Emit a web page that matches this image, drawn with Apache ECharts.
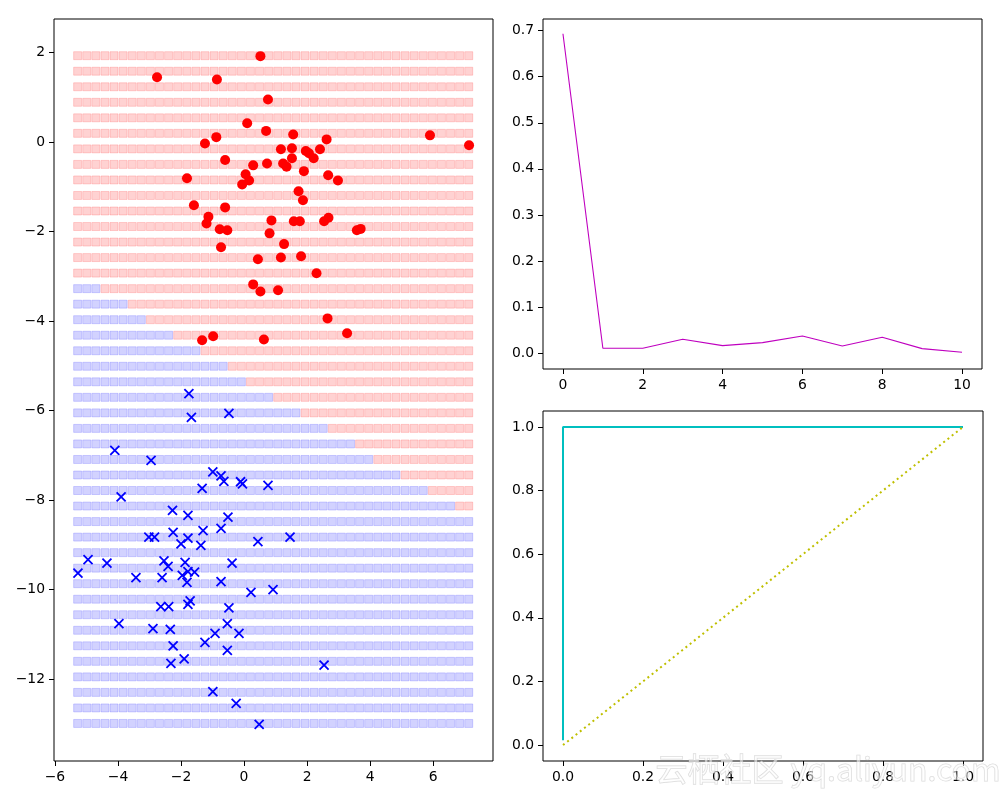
<!DOCTYPE html>
<html>
<head>
<meta charset="utf-8">
<script src="https://cdn.jsdelivr.net/npm/echarts@6/dist/echarts.min.js"></script>
<style>html,body{margin:0;padding:0;background:#fff;}#c{width:1000px;height:800px;}</style>
</head>
<body>
<div id="c"></div>
<script>
// ---- Left panel: decision-region grid ----
const gridX = [-5.280,-4.991,-4.703,-4.414,-4.126,-3.837,-3.548,-3.260,-2.971,-2.683,-2.394,-2.105,-1.817,-1.528,-1.240,-0.951,-0.662,-0.374,-0.085,0.203,0.492,0.781,1.069,1.358,1.646,1.935,2.224,2.512,2.801,3.089,3.378,3.667,3.955,4.244,4.532,4.821,5.110,5.398,5.687,5.975,6.264,6.553,6.841,7.130];
const gridY = [1.930,1.583,1.236,0.889,0.542,0.195,-0.152,-0.499,-0.846,-1.193,-1.540,-1.887,-2.234,-2.581,-2.928,-3.275,-3.622,-3.969,-4.316,-4.663,-5.010,-5.357,-5.704,-6.051,-6.398,-6.745,-7.092,-7.439,-7.786,-8.133,-8.480,-8.827,-9.174,-9.521,-9.868,-10.215,-10.562,-10.909,-11.256,-11.603,-11.950,-12.297,-12.644,-12.991];
// number of blue (class 1) cells from the left, per row of gridY
const blueCount = [0,0,0,0,0,0,0,0,0,0,0,0,0,0,0,3,6,8,11,14,17,19,22,25,28,31,33,36,39,42,44,44,44,44,44,44,44,44,44,44,44,44,44,44];

// ---- Left panel: samples ----
const redX = [0.52,-2.76,-0.86,0.76,0.10,0.70,1.56,5.90,-0.88,2.62,-1.24,7.14,1.17,1.52,1.96,2.06,2.41,1.52,2.21,-0.60,0.73,1.24,1.35,0.29,1.90,0.05,-1.81,2.67,2.98,0.16,-0.06,1.73,1.87,-1.59,-0.60,-1.13,-1.19,0.87,1.58,1.77,2.54,2.68,-0.77,-0.53,3.58,3.70,0.81,1.27,-0.73,0.44,1.17,1.81,2.30,0.29,0.52,1.08,2.65,3.27,-0.98,-1.33,0.63];
const redY = [1.92,1.45,1.40,0.95,0.42,0.25,0.17,0.15,0.11,0.06,-0.03,-0.07,-0.16,-0.14,-0.20,-0.25,-0.16,-0.36,-0.36,-0.40,-0.48,-0.48,-0.55,-0.52,-0.65,-0.72,-0.81,-0.74,-0.86,-0.86,-0.95,-1.10,-1.30,-1.41,-1.46,-1.67,-1.82,-1.75,-1.77,-1.77,-1.77,-1.69,-1.95,-1.97,-1.97,-1.94,-2.04,-2.28,-2.35,-2.62,-2.58,-2.55,-2.93,-3.18,-3.34,-3.31,-3.94,-4.27,-4.34,-4.43,-4.41];
const blueX = [-1.75,-1.67,-0.48,-4.10,-2.95,-0.99,-0.73,-0.64,-0.11,-0.05,0.76,-1.33,-3.90,-2.27,-1.78,-0.51,-2.25,-1.30,-0.73,-3.02,-2.84,-1.78,-2.00,-1.37,0.44,1.46,-4.95,-4.35,-2.54,-2.41,-1.87,-0.38,-5.27,-3.43,-2.60,-1.96,-1.78,-1.57,-1.81,-0.73,0.22,0.92,-2.64,-2.39,-1.78,-1.71,-0.48,-3.97,-2.89,-2.34,-0.53,-0.92,-0.16,-1.24,-2.25,-0.53,-1.90,-2.32,2.54,-0.99,-0.25,0.48];
const blueY = [-5.62,-6.15,-6.06,-6.89,-7.11,-7.37,-7.46,-7.58,-7.59,-7.64,-7.67,-7.74,-7.93,-8.23,-8.34,-8.38,-8.72,-8.68,-8.63,-8.83,-8.83,-8.85,-8.98,-9.01,-8.93,-8.83,-9.33,-9.41,-9.36,-9.48,-9.39,-9.41,-9.63,-9.73,-9.73,-9.68,-9.60,-9.61,-9.84,-9.82,-10.06,-10.00,-10.38,-10.38,-10.33,-10.25,-10.41,-10.76,-10.87,-10.89,-10.76,-10.98,-10.98,-11.18,-11.26,-11.36,-11.55,-11.65,-11.69,-12.28,-12.54,-13.01];

// ---- Top right: loss curve ----
const lossX = [0,1,2,3,4,5,6,7,8,9,10];
const lossY = [0.693,0.011,0.011,0.0305,0.0167,0.0232,0.0377,0.016,0.0348,0.0102,0.0022];

// ---- Bottom right: ROC ----
const rocX = [0,0,1];
const rocY = [0.015,1,1];
const diagX = [0,1];
const diagY = [0,1];

// ---- Tick labels ----
const leftXTicks = [-6,-4,-2,0,2,4,6];
const leftYTicks = [-12,-10,-8,-6,-4,-2,0,2];
const lossXTicks = [0,2,4,6,8,10];
const lossYTicks = [0,0.1,0.2,0.3,0.4,0.5,0.6,0.7];
const rocTicks = [0,0.2,0.4,0.6,0.8,1.0];

// ---- build ----
const blueCells = [], pinkCells = [];
gridY.forEach((y, r) => {
  gridX.forEach((x, c) => {
    if (c < blueCount[r]) blueCells.push([x, y]); else pinkCells.push([x, y]);
  });
});
const zip = (a, b) => a.map((v, i) => [v, b[i]]);
const minus = s => String(s).replace('-', '\u2212');
const FONT = 'DejaVu Sans';
const lab = (vals, fmt) => ({
  customValues: vals, color: '#000', fontSize: 13.9, fontFamily: FONT, margin: 9,
  formatter: v => fmt(v)
});
const tick = vals => ({ show: true, inside: false, length: 5, customValues: vals, lineStyle: { color: '#000', width: 1 } });
const axisBase = { type: 'value', splitLine: { show: false }, axisLine: { show: false, onZero: false } };

const chart = echarts.init(document.getElementById('c'), null, { renderer: 'canvas' });
const xMark = 'path://M0,0L10,10M10,0L0,10';
chart.setOption({
  animation: false,
  backgroundColor: '#fff',
  grid: [
    { left: 54, top: 19, width: 439, height: 742, show: true, borderColor: '#000', borderWidth: 1, backgroundColor: 'transparent' },
    { left: 543, top: 19, width: 439, height: 350, show: true, borderColor: '#000', borderWidth: 1, backgroundColor: 'transparent' },
    { left: 543, top: 411, width: 440, height: 350, show: true, borderColor: '#000', borderWidth: 1, backgroundColor: 'transparent' }
  ],
  xAxis: [
    Object.assign({}, axisBase, { gridIndex: 0, min: -6.03, max: 7.9, axisTick: tick(leftXTicks), axisLabel: lab(leftXTicks, v => minus(v)) }),
    Object.assign({}, axisBase, { gridIndex: 1, min: -0.5, max: 10.5, axisTick: tick(lossXTicks), axisLabel: lab(lossXTicks, v => String(v)) }),
    Object.assign({}, axisBase, { gridIndex: 2, min: -0.05, max: 1.05, axisTick: tick(rocTicks), axisLabel: lab(rocTicks, v => v.toFixed(1)) })
  ],
  yAxis: [
    Object.assign({}, axisBase, { gridIndex: 0, min: -13.83, max: 2.75, axisTick: tick(leftYTicks), axisLabel: lab(leftYTicks, v => minus(v)) }),
    Object.assign({}, axisBase, { gridIndex: 1, min: -0.034, max: 0.725, axisTick: tick(lossYTicks), axisLabel: lab(lossYTicks, v => v.toFixed(1)) }),
    Object.assign({}, axisBase, { gridIndex: 2, min: -0.05, max: 1.05, axisTick: tick(rocTicks), axisLabel: lab(rocTicks, v => v.toFixed(1)) })
  ],
  series: [
    { type: 'scatter', xAxisIndex: 0, yAxisIndex: 0, data: pinkCells, symbol: 'rect', symbolSize: 8, silent: true, z: 1,
      itemStyle: { color: 'rgba(255,0,0,0.22)', borderColor: 'rgba(255,0,0,0.2)', borderWidth: 1 } },
    { type: 'scatter', xAxisIndex: 0, yAxisIndex: 0, data: blueCells, symbol: 'rect', symbolSize: 8, silent: true, z: 1,
      itemStyle: { color: 'rgba(0,0,255,0.22)', borderColor: 'rgba(0,0,255,0.2)', borderWidth: 1 } },
    { type: 'scatter', xAxisIndex: 0, yAxisIndex: 0, data: zip(redX, redY), symbol: 'circle', symbolSize: 10, z: 3,
      itemStyle: { color: '#ff0000', opacity: 1 } },
    { type: 'scatter', xAxisIndex: 0, yAxisIndex: 0, data: zip(blueX, blueY), symbol: xMark, symbolSize: 9, z: 3,
      itemStyle: { color: 'rgba(0,0,0,0)', borderColor: '#0000ff', borderWidth: 1.8, opacity: 1 } },
    { type: 'line', xAxisIndex: 1, yAxisIndex: 1, data: zip(lossX, lossY), showSymbol: false, symbol: 'none',
      lineStyle: { color: '#bf00bf', width: 1.1 } },
    { type: 'line', xAxisIndex: 2, yAxisIndex: 2, data: zip(rocX, rocY), showSymbol: false, symbol: 'none',
      lineStyle: { color: '#00bfbf', width: 2 } },
    { type: 'line', xAxisIndex: 2, yAxisIndex: 2, data: zip(diagX, diagY), showSymbol: false, symbol: 'none',
      lineStyle: { color: '#bfbf00', width: 2, type: [2, 3.4] } }
  ],
  graphic: [
    { type: 'text', left: 655, top: 752, z: 100, silent: true,
      style: { text: '云栖社区 yq.aliyun.com', fontSize: 32, fontFamily: 'Noto Sans CJK SC', fill: 'rgba(255,255,255,0.55)', stroke: 'rgba(170,170,170,0.45)', lineWidth: 1 } }
  ]
});
</script>
</body>
</html>
